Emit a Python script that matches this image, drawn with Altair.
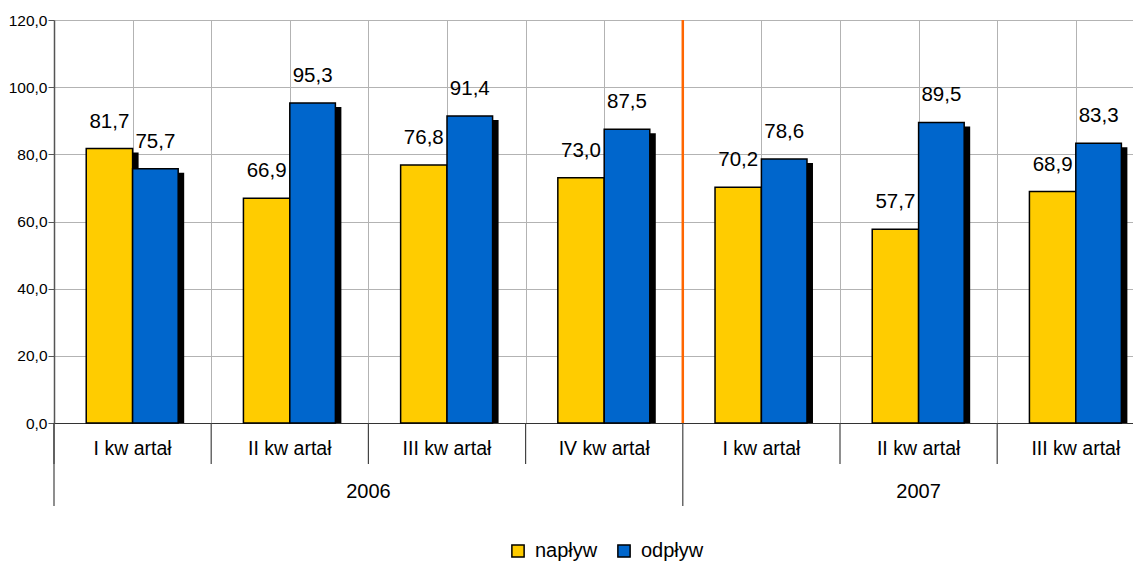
import altair as alt
import pandas as pd

quarters = ["I kw artał", "II kw artał", "III kw artał", "IV kw artał",
            "I kw artał", "II kw artał", "III kw artał"]
years = ["2006", "2006", "2006", "2006", "2007", "2007", "2007"]
naplyw = [81.7, 66.9, 76.8, 73.0, 70.2, 57.7, 68.9]
odplyw = [75.7, 95.3, 91.4, 87.5, 78.6, 89.5, 83.3]
series = ["napływ", "odpływ"]
colors = ["#FFCC00", "#0066CC"]
y_ticks = [0, 20, 40, 60, 80, 100, 120]

FONT = "Liberation Sans"
W = 1079
H = 403
STEP = 157.2
XMAX = W / STEP

rows = []
for i, (q, yr, a, b) in enumerate(zip(quarters, years, naplyw, odplyw)):
    rows.append({"i": i, "series": series[0], "value": a, "x0": i + 0.205, "x1": i + 0.5})
    rows.append({"i": i, "series": series[1], "value": b, "x0": i + 0.5, "x1": i + 0.79})
bars_df = pd.DataFrame(rows)
bars_df["xm"] = (bars_df["x0"] + bars_df["x1"]) / 2
bars_df["label"] = bars_df["value"].map(lambda v: f"{v:.1f}".replace(".", ","))

cat_df = pd.DataFrame({"xc": [i + 0.5 for i in range(len(quarters))], "q": quarters})
yr_names = sorted(set(years))
yr_df = pd.DataFrame({
    "yr": yr_names,
    "xc": [(years.index(y) + len(years) - years[::-1].index(y)) / 2 for y in yr_names],
})
bounds = [i for i in range(len(quarters))]
short_df = pd.DataFrame({"b": [b for b in bounds if b == 0 or years[b] == years[b - 1]]})
long_df = pd.DataFrame({"b": [b for b in bounds if b == 0 or years[b] != years[b - 1]]})
sep_df = pd.DataFrame({"b": [b for b in bounds if b > 0 and years[b] != years[b - 1]]})

xscale = alt.Scale(domain=[0, XMAX], nice=False, zero=False)
yscale = alt.Scale(domain=[0, 120], nice=False)

grid_vals = [k * 0.5 for k in range(0, int(XMAX * 2) + 1)]

base = alt.Chart(bars_df)

shadow = base.mark_bar(color="black", xOffset=6, x2Offset=6, yOffset=4).encode(
    x=alt.X("x0:Q", scale=xscale,
            axis=alt.Axis(values=grid_vals, grid=True, gridColor="#b3b3b3", gridWidth=1,
                          labels=False, ticks=False, domain=True, domainColor="#333333",
                          domainWidth=1.2, title=None)),
    x2="x1:Q",
    y=alt.Y("value:Q", scale=yscale,
            axis=alt.Axis(values=y_ticks, grid=True, gridColor="#b3b3b3", gridWidth=1,
                          labelExpr="replace(format(datum.value, '.1f'), '.', ',')",
                          labelFont=FONT, labelFontSize=15.5, labelColor="black",
                          tickSize=6, tickColor="#555555", domainColor="#555555",
                          domainWidth=1.5, labelPadding=1, title=None)),
    y2=alt.datum(0),
)

bars = base.mark_bar(stroke="black", strokeWidth=1.5).encode(
    x="x0:Q", x2="x1:Q",
    y="value:Q", y2=alt.datum(0),
    color=alt.Color("series:N", scale=alt.Scale(domain=series, range=colors),
                    legend=alt.Legend(orient="none", direction="horizontal",
                                      legendX=454, legendY=521, title=None,
                                      symbolType="square", symbolSize=150,
                                      symbolStrokeColor="black", symbolStrokeWidth=1.5,
                                      symbolOpacity=1,
                                      labelFont=FONT, labelFontSize=20, labelColor="black",
                                      labelOffset=7, columnPadding=16)),
)

labels = base.mark_text(font=FONT, fontSize=20.5, color="black", baseline="alphabetic",
                        dy=-21).encode(
    x="xm:Q", y="value:Q", text="label:N")

sep = alt.Chart(sep_df).mark_rule(color="#FF6600", strokeWidth=2.5).encode(
    x="b:Q", y=alt.datum(0), y2=alt.datum(120))

short_ticks = alt.Chart(short_df).mark_rule(color="#444444", strokeWidth=1.2).encode(
    x="b:Q", y=alt.value(H), y2=alt.value(H + 41))
long_ticks = alt.Chart(long_df).mark_rule(color="#444444", strokeWidth=1.2).encode(
    x="b:Q", y=alt.value(H), y2=alt.value(H + 83))

cat_text = alt.Chart(cat_df).mark_text(font=FONT, fontSize=19.5, color="black",
                                       baseline="middle").encode(
    x="xc:Q", y=alt.value(H + 26), text="q:N")
yr_text = alt.Chart(yr_df).mark_text(font=FONT, fontSize=20, color="black",
                                     baseline="middle").encode(
    x="xc:Q", y=alt.value(H + 69), text="yr:N")

chart = alt.layer(shadow, bars, labels, sep, short_ticks, long_ticks, cat_text, yr_text).properties(
    width=W, height=H,
    padding={"left": 0, "top": 5, "right": 0, "bottom": 0},
).configure_view(stroke=None).configure(background="white")

chart.save("out.html", embed_options={"renderer": "svg", "actions": False})
